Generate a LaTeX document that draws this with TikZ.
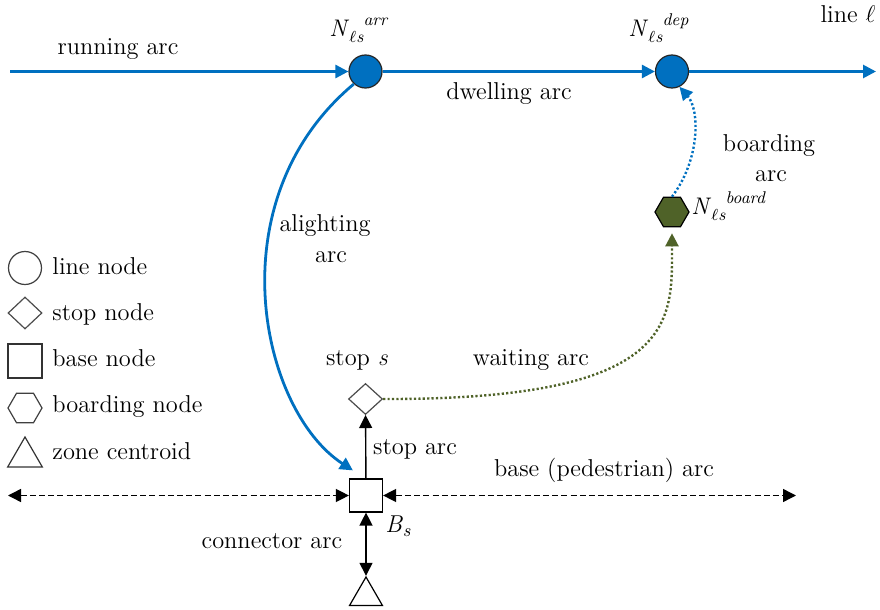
\documentclass[tikz,border=0pt]{standalone}
\usetikzlibrary{arrows.meta,shapes.geometric}

\definecolor{lineblue}{RGB}{0,112,192}
\definecolor{boardgreen}{RGB}{79,98,40}

% N with line-stop subscript followed by a raised tag
\newcommand{\Nls}[1]{{\fontsize{12}{12}\selectfont\textit{N}}%
  \raisebox{-0.5ex}{\fontsize{8.5}{9}\selectfont$\ell$\textit{s}}%
  \raisebox{1.1ex}{\fontsize{8.5}{9}\selectfont\textit{#1}}}

\tikzset{
  lnode/.style={circle, draw=black!85, line width=0.6pt, fill=lineblue,
    minimum size=16.5pt, inner sep=0pt},
  snode/.style={diamond, draw=black!70, line width=0.6pt, fill=white,
    minimum width=17pt, minimum height=15.5pt, inner sep=0pt},
  bnode/.style={rectangle, draw=black, line width=0.6pt, fill=white,
    minimum size=16.5pt, inner sep=0pt},
  hnode/.style={regular polygon, regular polygon sides=6, draw=black,
    line width=0.6pt, minimum size=17pt, inner sep=0pt},
  znode/.style={regular polygon, regular polygon sides=3, draw=black,
    line width=0.6pt, minimum size=19pt, inner sep=0pt},
  lbl/.style={inner sep=0pt, anchor=base},
  lblw/.style={inner sep=0pt, anchor=base west},
  bline/.style={draw=lineblue, line width=1.4pt},
  kline/.style={draw=black, line width=0.7pt},
  dline/.style={draw=black, line width=0.7pt, dash pattern=on 3pt off 1.6pt},
  dotline/.style={draw=#1, line width=1.2pt, dash pattern=on 1.1pt off 1.1pt},
  tipend/.style={-{Triangle[length=6.5pt,width=6.5pt]}},
  tipboth/.style={{Triangle[length=6.5pt,width=6.5pt]}-{Triangle[length=6.5pt,width=6.5pt]}},
}

\begin{document}
\begin{tikzpicture}[x=0.5pt, y=-0.5pt, font=\fontsize{12.2}{15}\selectfont]
  \useasboundingbox (0,0) rectangle (880,610);

  % ---- line nodes and the line itself
  \node[lnode] (Narr) at (365.5,71.5) {};
  \node[lnode] (Ndep) at (672,71.5) {};
  \coordinate (lineStart) at (10,71.5);
  \coordinate (lineEnd) at (876,71.5);
  \draw[bline, tipend] (lineStart) -- (Narr);
  \draw[bline, tipend] (Narr) -- (Ndep);
  \draw[bline, tipend] (Ndep) -- (lineEnd);

  \node[lbl] (runLbl) at (118,55) {running arc};
  \node[lbl] (dwellLbl) at (509,100) {dwelling arc};
  \node[lbl] (lineLbl) at (848,23) {line $\ell$};
  \node[lblw] (arrLbl) at (329,37) {\Nls{arr}};
  \node[lblw] (depLbl) at (628,37) {\Nls{dep}};

  % ---- stop, base and zone nodes
  \node[snode] (S) at (365.5,399) {};
  \node[bnode] (B) at (366,495.5) {};
  \node[znode] (Z) at (366,596) {};

  \node[lbl] (stopLbl) at (357,365) {stop \textit{s}};
  \node[lblw] (bsLbl) at (385,532) {\textit{B}\raisebox{-0.45ex}{\fontsize{9}{10}\selectfont\textit{s}}};

  % ---- boarding node
  \node[hnode, fill=boardgreen] (H) at (672,212) {};
  \node[lblw] (boardLbl) at (691,215) {\Nls{board}};

  % ---- arcs
  \draw[bline, tipend] (Narr.-133) .. controls (215,200) and (260,410) .. ([shift={(4,-8)}]B.north west);
  \node[lbl] (alLbl1) at (325,232) {alighting};
  \node[lbl] (alLbl2) at (331,263) {arc};

  \draw[dotline=lineblue, tipend] (H.north) .. controls (700,160) and (700,110) .. (Ndep.-64);
  \node[lbl] (boLbl1) at (769,152) {boarding};
  \node[lbl] (boLbl2) at (771,182) {arc};

  \draw[dotline=boardgreen, tipend] (S.east) .. controls (680,400) and (672,320) .. ([shift={(0,6)}]H.south);
  \node[lbl] (waitLbl) at (531,365) {waiting arc};

  \draw[kline, tipend] (B) -- (S);
  \node[lbl] (stopArcLbl) at (415,455) {stop arc};

  \draw[kline, tipboth] (B) -- (Z);
  \node[lbl] (connLbl) at (272,548) {connector arc};

  \coordinate (baseL) at (8,495.5);
  \coordinate (baseR) at (796,495.5);
  \draw[dline, tipboth] (baseL) -- (B);
  \draw[dline, tipboth] (B) -- (baseR);
  \node[lbl] (baseLbl) at (604,477) {base (pedestrian) arc};

  % ---- legend
  \node[lnode, fill=white, draw=black!75] (legL) at (25,268) {};
  \node[snode, minimum height=16pt] (legS) at (25,313) {};
  \node[bnode, minimum size=17pt, draw=black!80] (legB) at (25,361) {};
  \node[hnode, minimum size=17pt, draw=black!75] (legH) at (25,408) {};
  \node[znode, minimum size=20pt, draw=black!80] (legZ) at (25,457) {};
  \node[lblw] (legLt) at (52,275) {line node};
  \node[lblw] (legSt) at (52,321) {stop node};
  \node[lblw] (legBt) at (52,367) {base node};
  \node[lblw] (legHt) at (52,413) {boarding node};
  \node[lblw] (legZt) at (52,459) {zone centroid};
\end{tikzpicture}
\end{document}
